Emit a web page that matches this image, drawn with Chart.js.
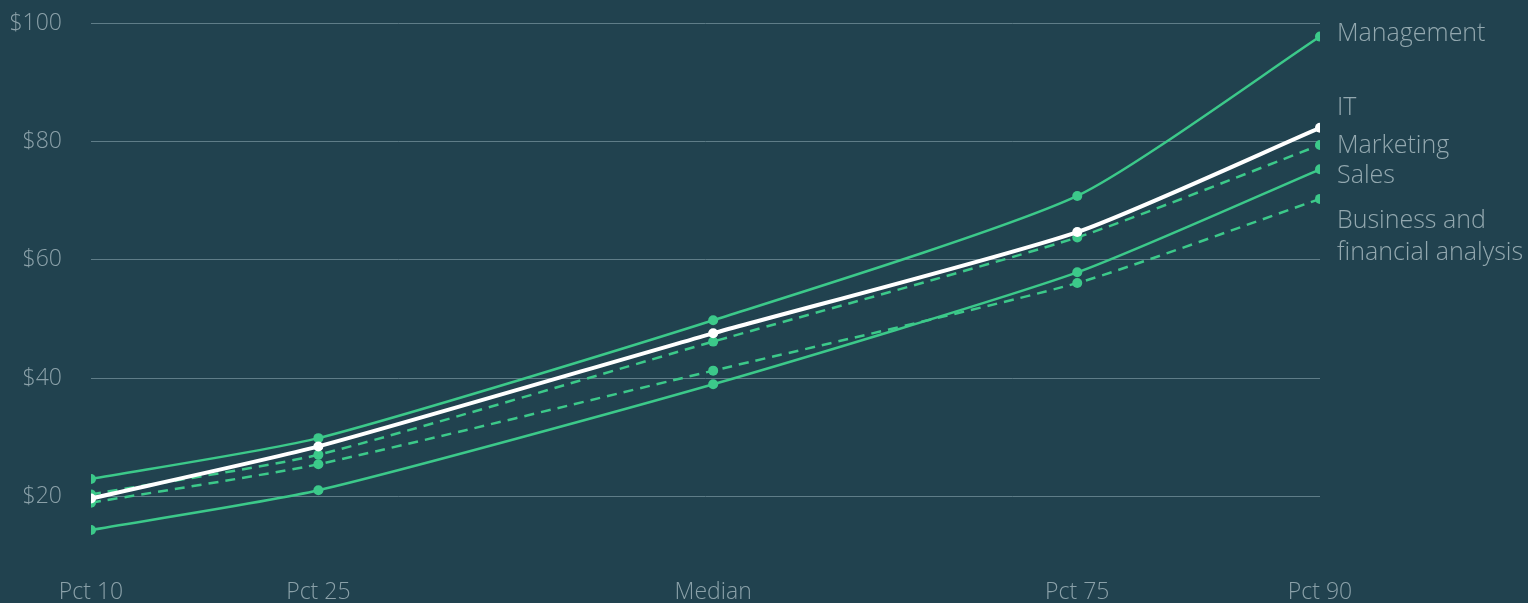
<!DOCTYPE html>
<html>
<head>
<meta charset="utf-8">
<script src="https://cdn.jsdelivr.net/npm/chart.js@4.4.1/dist/chart.umd.min.js"></script>
<style>
    html, body { margin: 0; padding: 0; background: #21424f; }
    #contenedor { width: 1528px; height: 603px; position: relative; }
</style>
</head>
<body>
<div id="contenedor"><canvas id="grafico"></canvas></div>
<script>
// Datos (salario por hora)
const percentiles = [10, 24.8, 50.5, 74.2, 90];
const etiquetasPercentil = ['Pct 10', 'Pct 25', 'Median', 'Pct 75', 'Pct 90'];
const ticksSalario = [20, 40, 60, 80, 100];

const management = [23.0, 29.9, 49.8, 70.8, 97.7];
const it = [19.7, 28.5, 47.6, 64.7, 82.3];
const marketing = [20.4, 27.1, 46.2, 63.8, 79.4];
const sales = [14.4, 21.1, 39.0, 57.9, 75.3];
const business = [19.0, 25.5, 41.3, 56.1, 70.3];

const nombresSeries = ['Management', 'IT', 'Marketing', 'Sales', 'Business and\nfinancial analysis'];

const VERDE = '#3cc98a';
const BLANCO = '#ffffff';
const TEXTO = '#8ba1a9';
const FUENTE = "'Open Sans', Lato, sans-serif";

// desplazamiento vertical de cada etiqueta para que no se pisen
const desplazamientoEtiquetas = [-3, -20, 1, 7, 22];

function puntos(valores) {
    return valores.map((v, i) => ({ x: percentiles[i], y: v }));
}

function serie(nombre, valores, color, ancho, guiones) {
    return {
        label: nombre,
        data: puntos(valores),
        borderColor: color,
        backgroundColor: color,
        pointBackgroundColor: color,
        pointBorderWidth: 0,
        pointRadius: 5,
        borderWidth: ancho,
        borderDash: guiones,
        tension: 0.2,
        fill: false
    };
}

const datasets = [
    serie(nombresSeries[0], management, VERDE, 2.5, []),
    serie(nombresSeries[2], marketing, VERDE, 2.5, [10, 7]),
    serie(nombresSeries[3], sales, VERDE, 2.5, []),
    serie(nombresSeries[4], business, VERDE, 2.5, [10, 7]),
    serie(nombresSeries[1], it, BLANCO, 4, [])
];
// IT arriba de todo
datasets[4].order = -1;

const etiquetasFinales = {
    id: 'etiquetasFinales',
    afterDatasetsDraw(chart) {
        const ctx = chart.ctx;
        ctx.save();
        ctx.font = `300 25px ${FUENTE}`;
        ctx.fillStyle = '#93a8af';
        ctx.textBaseline = 'middle';
        ctx.textAlign = 'left';
        chart.data.datasets.forEach((ds, i) => {
            const meta = chart.getDatasetMeta(i);
            const ultimo = meta.data[meta.data.length - 1];
            const idx = nombresSeries.indexOf(ds.label);
            const lineas = ds.label.split('\n');
            let y = ultimo.y + desplazamientoEtiquetas[idx];
            lineas.forEach((linea, j) => {
                ctx.fillText(linea, ultimo.x + 17, y + j * 32);
            });
        });
        ctx.restore();
    }
};

new Chart(document.getElementById('grafico'), {
    type: 'line',
    data: { datasets },
    options: {
        responsive: true,
        maintainAspectRatio: false,
        animation: false,
        layout: { padding: { top: 23, right: 208, bottom: 0, left: 0 } },
        plugins: {
            legend: { display: false },
            tooltip: { enabled: false }
        },
        scales: {
            x: {
                type: 'linear',
                min: 10,
                max: 90,
                border: { display: false },
                grid: { display: false },
                afterBuildTicks: scale => {
                    scale.ticks = percentiles.map(v => ({ value: v }));
                },
                afterFit: scale => {
                    scale.height = 47;
                    scale.paddingLeft = 0;
                    scale.paddingRight = 0;
                },
                ticks: {
                    padding: 15,
                    color: TEXTO,
                    font: { family: FUENTE, size: 23, weight: '300' },
                    maxRotation: 0,
                    autoSkip: false,
                    callback: (v, i) => etiquetasPercentil[i]
                }
            },
            y: {
                min: 10,
                max: 100,
                border: { display: false },
                grid: { color: '#5f7d88', lineWidth: 1, drawTicks: false },
                afterBuildTicks: scale => {
                    scale.ticks = ticksSalario.map(v => ({ value: v }));
                },
                afterFit: scale => {
                    scale.width = 91;
                    scale.paddingTop = 0;
                    scale.paddingBottom = 0;
                },
                ticks: {
                    padding: 29,
                    color: TEXTO,
                    font: { family: FUENTE, size: 23, weight: '300' },
                    callback: v => '$' + v
                }
            }
        }
    },
    plugins: [etiquetasFinales]
});
</script>
</body>
</html>
